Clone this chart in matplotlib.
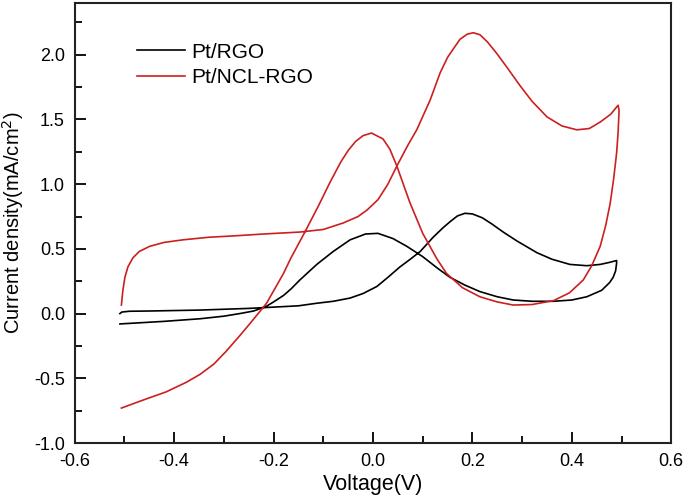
import matplotlib
matplotlib.use("Agg")
import matplotlib.pyplot as plt
from matplotlib.ticker import MultipleLocator

plt.rcParams['font.family'] = ['Liberation Sans', 'DejaVu Sans']
plt.rcParams['axes.unicode_minus'] = False

# Pt/RGO, forward scan then reverse scan
rgo_fwd_v = [-0.509, -0.505, -0.49, -0.45, -0.35, -0.25, -0.20, -0.15, -0.113, -0.08,
             -0.046, -0.02, 0.008, 0.03, 0.054, 0.075, 0.095, 0.121, 0.14, 0.155,
             0.17, 0.185, 0.20, 0.22, 0.24, 0.262, 0.29, 0.33, 0.36, 0.396,
             0.43, 0.457, 0.475, 0.49]
rgo_fwd_j = [0.0, 0.012, 0.018, 0.02, 0.027, 0.04, 0.05, 0.06, 0.08, 0.095,
             0.12, 0.155, 0.21, 0.28, 0.36, 0.42, 0.48, 0.59, 0.66, 0.71,
             0.755, 0.775, 0.77, 0.74, 0.69, 0.63, 0.56, 0.47, 0.42, 0.38,
             0.37, 0.38, 0.395, 0.41]
rgo_rev_v = [0.49, 0.488, 0.483, 0.476, 0.46, 0.43, 0.40, 0.363, 0.32, 0.282,
             0.25, 0.215, 0.185, 0.155, 0.13, 0.10, 0.068, 0.04, 0.01, -0.015,
             -0.046, -0.08, -0.113, -0.147, -0.165, -0.18, -0.20, -0.215, -0.24, -0.268,
             -0.30, -0.348, -0.42, -0.509]
rgo_rev_j = [0.39, 0.33, 0.28, 0.24, 0.18, 0.13, 0.105, 0.095, 0.095, 0.105,
             0.13, 0.17, 0.22, 0.28, 0.35, 0.44, 0.52, 0.58, 0.62, 0.615,
             0.57, 0.48, 0.38, 0.26, 0.19, 0.14, 0.09, 0.055, 0.02, 0.0,
             -0.02, -0.04, -0.06, -0.08]

# Pt/NCL-RGO, forward scan then reverse scan
ncl_fwd_v = [-0.506, -0.503, -0.499, -0.493, -0.483, -0.47, -0.449, -0.42, -0.382, -0.33,
             -0.282, -0.22, -0.147, -0.10, -0.06, -0.03, -0.012, 0.01, 0.03, 0.048,
             0.07, 0.088, 0.115, 0.135, 0.15, 0.175, 0.19, 0.202, 0.215, 0.23,
             0.249, 0.27, 0.296, 0.32, 0.35, 0.38, 0.41, 0.435, 0.457, 0.478,
             0.493]
ncl_fwd_j = [0.066, 0.18, 0.28, 0.36, 0.43, 0.48, 0.52, 0.55, 0.57, 0.59,
             0.60, 0.615, 0.63, 0.65, 0.70, 0.75, 0.80, 0.88, 1.00, 1.14,
             1.30, 1.42, 1.65, 1.86, 1.98, 2.12, 2.16, 2.17, 2.155, 2.10,
             2.01, 1.90, 1.76, 1.64, 1.52, 1.45, 1.42, 1.43, 1.48, 1.54,
             1.61]
ncl_rev_v = [0.495, 0.493, 0.49, 0.484, 0.477, 0.468, 0.457, 0.44, 0.423, 0.395,
             0.363, 0.32, 0.282, 0.25, 0.215, 0.18, 0.148, 0.129, 0.10, 0.074,
             0.048, 0.034, 0.02, -0.003, -0.02, -0.035, -0.05, -0.065, -0.087, -0.11,
             -0.137, -0.165, -0.18, -0.214, -0.247, -0.27, -0.295, -0.32, -0.348, -0.375,
             -0.416, -0.46, -0.506]
ncl_rev_j = [1.57, 1.40, 1.24, 1.04, 0.85, 0.68, 0.52, 0.37, 0.26, 0.16,
             0.10, 0.07, 0.066, 0.09, 0.13, 0.20, 0.31, 0.42, 0.62, 0.86,
             1.14, 1.27, 1.35, 1.395, 1.375, 1.33, 1.26, 1.17, 1.01, 0.83,
             0.63, 0.43, 0.31, 0.08, -0.075, -0.18, -0.29, -0.39, -0.47, -0.53,
             -0.605, -0.665, -0.73]

red = '#cc1f1f'

fig = plt.figure(figsize=(6.85, 5.0), dpi=100)
ax = fig.add_axes([0.109, 0.114, 0.871, 0.880])

ax.plot(rgo_fwd_v + rgo_rev_v, rgo_fwd_j + rgo_rev_j, color='black', lw=1.2, label='Pt/RGO')
ax.plot(ncl_fwd_v + ncl_rev_v, ncl_fwd_j + ncl_rev_j, color=red, lw=1.2, label='Pt/NCL-RGO')

ax.set_xlim(-0.6, 0.6)
ax.set_ylim(-1.0, 2.4)
ax.xaxis.set_major_locator(MultipleLocator(0.2))
ax.xaxis.set_minor_locator(MultipleLocator(0.1))
ax.yaxis.set_major_locator(MultipleLocator(0.5))
ax.yaxis.set_minor_locator(MultipleLocator(0.25))
ax.tick_params(which='both', direction='in', top=False, right=False, width=1.3,
               labelsize=13, pad=7)
ax.tick_params(which='major', length=8)
ax.tick_params(which='minor', length=5)
for s in ax.spines.values():
    s.set_linewidth(1.5)
    s.set_color('#222222')

ax.set_xlabel('Voltage(V)', fontsize=15.5, labelpad=3)
ax.set_ylabel('Current density(mA/cm$^2$)', fontsize=14.5, labelpad=6)

ax.legend(loc='upper left', bbox_to_anchor=(0.105, 0.91), frameon=False, fontsize=15,
          handlelength=2.3, handletextpad=0.3, labelspacing=0.3, borderpad=0, borderaxespad=0)

fig.savefig('out.png', dpi=100)
